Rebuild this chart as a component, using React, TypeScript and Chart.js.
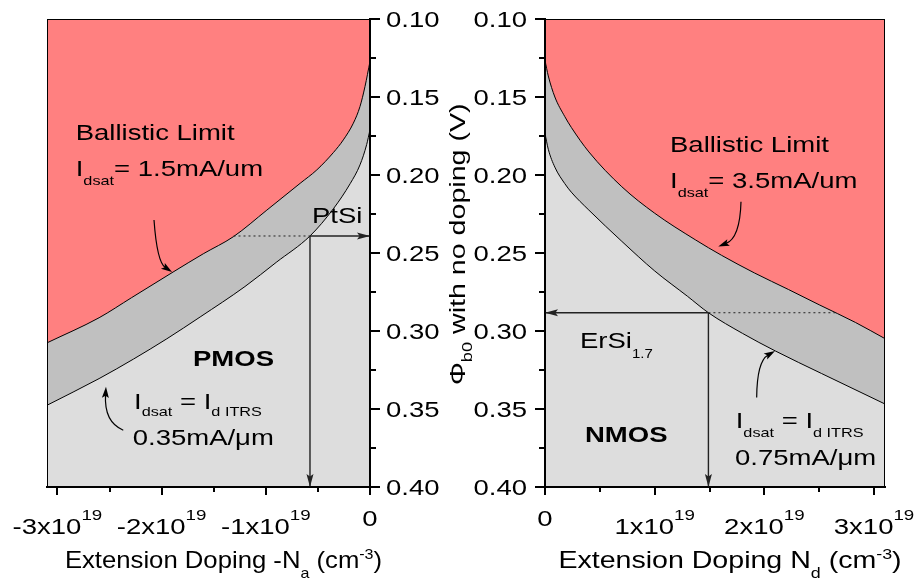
import React, { useEffect, useRef } from 'react';
import { Chart, registerables } from 'chart.js';

Chart.register(...registerables);

// ---------- data: doping in units of 1e19 cm^-3, barrier height Φb0 in V ----------
const Y_TICKS = [0.1, 0.15, 0.2, 0.25, 0.3, 0.35, 0.4];
const Y_MINOR_TICKS = [0.125, 0.175, 0.225, 0.275, 0.325, 0.375];

// PMOS panel (acceptor doping plotted as -Na)
const PMOS_X_TICKS = [-3, -2, -1, 0];
const PMOS_X_MINOR_TICKS = [-2.5, -1.5, -0.5];
const PMOS_BALLISTIC_NA = [-3.1, -2.6, -2.29, -1.89, -1.6, -1.31, -0.99, -0.67, -0.51, -0.35, -0.256, -0.16, -0.096, -0.048, 0];
const PMOS_BALLISTIC_PHI = [0.3076, 0.2915, 0.2787, 0.2622, 0.2505, 0.2395, 0.2225, 0.2053, 0.1967, 0.1855, 0.1775, 0.1668, 0.1561, 0.1433, 0.1272];
const PMOS_ITRS_NA = [-3.1, -2.6, -2.27, -1.95, -1.63, -1.2, -0.9, -0.576, -0.35, -0.19, -0.096, -0.032, 0];
const PMOS_ITRS_PHI = [0.3476, 0.3305, 0.318, 0.305, 0.291, 0.2715, 0.256, 0.2391, 0.2215, 0.2055, 0.1935, 0.1805, 0.171];
const PTSI_PHI = 0.2391;
const PTSI_NA = -0.576;
const PTSI_DOT_FROM = -1.31;

// NMOS panel (donor doping Nd)
const NMOS_X_TICKS = [0, 1, 2, 3];
const NMOS_X_MINOR_TICKS = [0.5, 1.5, 2.5];
const NMOS_BALLISTIC_ND = [0, 0.03, 0.09, 0.18, 0.24, 0.4, 0.7, 1.0, 1.37, 1.61, 1.91, 2.22, 2.5, 2.83, 3.1];
const NMOS_BALLISTIC_PHI = [0.1266, 0.1365, 0.15, 0.1625, 0.1695, 0.1852, 0.2075, 0.2245, 0.2415, 0.2515, 0.2628, 0.2734, 0.2832, 0.2945, 0.3049];
const NMOS_ITRS_ND = [0, 0.03, 0.09, 0.18, 0.24, 0.4, 0.7, 1.0, 1.3, 1.49, 1.8, 2.1, 2.52, 3.1];
const NMOS_ITRS_PHI = [0.1734, 0.1835, 0.195, 0.2055, 0.211, 0.2225, 0.2425, 0.2615, 0.2778, 0.2883, 0.3015, 0.3128, 0.3272, 0.3468];
const ERSI_PHI = 0.2883;
const ERSI_ND = 1.49;
const ERSI_DOT_TO = 2.65;

// ---------- styling ----------
const FONT = '"Liberation Sans", Arial, Helvetica, sans-serif';
const PINK = '#ff8080';
const BAND = '#c0c0c0';
const LIGHT = '#dddddd';
const GUIDE = '#222222';

type Run = { t: string; size?: number; dy?: number; bold?: boolean };
type TextItem = { x: number; y: number; runs: Run[]; size?: number; sx?: number; align?: 'left' | 'center' | 'right' };
type CurvedArrow = { from: [number, number]; ctrl: [number, number]; to: [number, number] };

interface Panel {
  xMin: number;
  xMax: number;
  xTicks: number[];
  xMinor: number[];
  side: 'left' | 'right';
  padding: { left: number; right: number; top: number; bottom: number };
  ballisticX: number[];
  ballisticY: number[];
  itrsX: number[];
  itrsY: number[];
  guide: { phi: number; n: number; dotEnd: number; axisX: number };
  arrows: CurvedArrow[];
  texts: TextItem[];
  title: Run[];
  titleSx: number;
  yTitle: boolean;
}

function drawRuns(
  ctx: CanvasRenderingContext2D,
  x: number,
  y: number,
  runs: Run[],
  opts: { align?: 'left' | 'center' | 'right'; sx?: number; size?: number; rotate?: number } = {}
) {
  const sx = opts.sx ?? 1.25;
  const base = opts.size ?? 22;
  ctx.save();
  ctx.translate(x, y);
  if (opts.rotate) ctx.rotate(opts.rotate);
  ctx.scale(sx, 1);
  ctx.textBaseline = 'alphabetic';
  ctx.textAlign = 'left';
  ctx.fillStyle = '#000';
  const fonts = runs.map((r) => `${r.bold ? 'bold ' : ''}${r.size ?? base}px ${FONT}`);
  const widths = runs.map((r, i) => {
    ctx.font = fonts[i];
    return ctx.measureText(r.t).width;
  });
  const total = widths.reduce((s, w) => s + w, 0);
  let cx = opts.align === 'center' ? -total / 2 : opts.align === 'right' ? -total : 0;
  runs.forEach((r, i) => {
    ctx.font = fonts[i];
    ctx.fillText(r.t, cx, r.dy ?? 0);
    cx += widths[i];
  });
  ctx.restore();
}

function arrowHead(ctx: CanvasRenderingContext2D, x: number, y: number, angle: number, len = 12, half = 3.5) {
  ctx.save();
  ctx.translate(x, y);
  ctx.rotate(angle);
  ctx.beginPath();
  ctx.moveTo(0, 0);
  ctx.lineTo(-len, -half);
  ctx.lineTo(-len * 0.8, 0);
  ctx.lineTo(-len, half);
  ctx.closePath();
  ctx.fill();
  ctx.restore();
}

const pts = (xs: number[], ys: number[]) => xs.map((x, i) => ({ x, y: ys[i] }));

function decorPlugin(p: Panel) {
  return {
    id: 'panelDecor',
    beforeDatasetsDraw(chart: any) {
      const { ctx, chartArea: a } = chart;
      ctx.save();
      ctx.fillStyle = LIGHT;
      ctx.fillRect(a.left, a.top, a.right - a.left, a.bottom - a.top);
      ctx.restore();
    },
    afterDatasetsDraw(chart: any) {
      const { ctx, chartArea: a } = chart;
      ctx.save();
      ctx.strokeStyle = '#000';
      ctx.lineWidth = 1;
      ctx.strokeRect(a.left + 0.5, a.top + 0.5, a.right - a.left - 1, a.bottom - a.top - 1);
      ctx.restore();
    },
    afterDraw(chart: any) {
      const { ctx, chartArea: a } = chart;
      const xs = chart.scales.x;
      const ys = chart.scales.y;
      const X = (v: number) => xs.getPixelForValue(v);
      const Y = (v: number) => ys.getPixelForValue(v);

      // minor tick marks
      ctx.save();
      ctx.strokeStyle = '#000';
      ctx.lineWidth = 2;
      ctx.beginPath();
      p.xMinor.forEach((v) => {
        const px = Math.round(X(v));
        ctx.moveTo(px, a.bottom);
        ctx.lineTo(px, a.bottom + 5);
      });
      Y_MINOR_TICKS.forEach((v) => {
        const py = Math.round(Y(v));
        if (p.side === 'right') {
          ctx.moveTo(a.right, py);
          ctx.lineTo(a.right + 6, py);
        } else {
          ctx.moveTo(a.left - 6, py);
          ctx.lineTo(a.left, py);
        }
      });
      ctx.stroke();
      ctx.restore();

      // tick labels
      p.xTicks.forEach((v) => {
        const px = X(v);
        if (v === 0) drawRuns(ctx, px, a.bottom + 38.5, [{ t: '0' }], { align: 'center' });
        else
          drawRuns(ctx, px, a.bottom + 47, [{ t: `${v}x10` }, { t: '19', size: 15, dy: -14 }], { align: 'center' });
      });
      Y_TICKS.forEach((v) => {
        const py = Y(v) + 8;
        if (p.side === 'right') drawRuns(ctx, a.right + 16, py, [{ t: v.toFixed(2) }], { align: 'left' });
        else drawRuns(ctx, a.left - 18, py, [{ t: v.toFixed(2) }], { align: 'right' });
      });

      // axis title
      drawRuns(ctx, (a.left + a.right) / 2 + 15, 568, p.title, { align: 'center', size: 24, sx: p.titleSx });

      // guide arrowheads
      ctx.save();
      ctx.fillStyle = GUIDE;
      const gy = Y(p.guide.phi);
      const toAxis = X(p.guide.axisX);
      arrowHead(ctx, toAxis, gy, toAxis > X(p.guide.n) ? 0 : Math.PI, 13, 3.5);
      arrowHead(ctx, X(p.guide.n), a.bottom, Math.PI / 2, 13, 3.5);
      ctx.restore();

      // curved pointer arrows
      ctx.save();
      ctx.strokeStyle = '#000';
      ctx.fillStyle = '#000';
      ctx.lineWidth = 1.2;
      p.arrows.forEach((ar) => {
        const f = [X(ar.from[0]), Y(ar.from[1])];
        const c = [X(ar.ctrl[0]), Y(ar.ctrl[1])];
        const t = [X(ar.to[0]), Y(ar.to[1])];
        const ang = Math.atan2(t[1] - c[1], t[0] - c[0]);
        ctx.beginPath();
        ctx.moveTo(f[0], f[1]);
        ctx.quadraticCurveTo(c[0], c[1], t[0] - Math.cos(ang) * 8, t[1] - Math.sin(ang) * 8);
        ctx.stroke();
        arrowHead(ctx, t[0], t[1], ang, 11, 3.5);
      });
      ctx.restore();

      // annotations
      p.texts.forEach((tx) => drawRuns(ctx, tx.x, tx.y, tx.runs, { align: tx.align, size: tx.size, sx: tx.sx }));

      if (p.yTitle) {
        drawRuns(
          ctx,
          465,
          385,
          [{ t: 'Φ' }, { t: 'b0', size: 14, dy: 7 }, { t: ' with no doping (V)' }],
          { rotate: -Math.PI / 2, sx: 1.3 }
        );
      }
    },
  };
}

function makeChart(canvas: HTMLCanvasElement, p: Panel) {
  const guideStyle = { borderColor: GUIDE, borderWidth: 1.4, pointRadius: 0, fill: false, tension: 0 };
  const config: any = {
    type: 'line',
    data: {
      datasets: [
        {
          label: 'guide dotted',
          data: [
            { x: p.guide.dotEnd, y: p.guide.phi },
            { x: p.guide.n, y: p.guide.phi },
          ].sort((u, v) => u.x - v.x),
          ...guideStyle,
          borderWidth: 1,
          borderDash: [2, 3],
          order: 0,
        },
        {
          label: 'guide horizontal',
          data: [
            { x: p.guide.n, y: p.guide.phi },
            { x: p.guide.axisX, y: p.guide.phi },
          ].sort((u, v) => u.x - v.x),
          ...guideStyle,
          order: 0,
        },
        {
          label: 'guide vertical',
          data: [
            { x: p.guide.n, y: p.guide.phi },
            { x: p.guide.n, y: 0.4 },
          ],
          ...guideStyle,
          order: 0,
        },
        {
          label: 'Ballistic limit',
          data: pts(p.ballisticX, p.ballisticY),
          borderColor: '#000',
          borderWidth: 1,
          backgroundColor: PINK,
          fill: 'end',
          pointRadius: 0,
          cubicInterpolationMode: 'monotone',
          order: 1,
        },
        {
          label: 'Idsat = Id ITRS',
          data: pts(p.itrsX, p.itrsY),
          borderColor: '#000',
          borderWidth: 1,
          backgroundColor: BAND,
          fill: 'end',
          pointRadius: 0,
          cubicInterpolationMode: 'monotone',
          order: 2,
        },
      ],
    },
    options: {
      animation: false,
      responsive: false,
      devicePixelRatio: 1,
      events: [],
      layout: { padding: p.padding },
      plugins: { legend: { display: false }, tooltip: { enabled: false }, title: { display: false } },
      scales: {
        x: {
          type: 'linear',
          position: 'bottom',
          min: p.xMin,
          max: p.xMax,
          z: 1,
          afterBuildTicks: (s: any) => {
            s.ticks = p.xTicks.map((v) => ({ value: v }));
          },
          afterFit: (s: any) => {
            s.height = 12;
          },
          ticks: { display: false, autoSkip: false },
          grid: { display: true, drawOnChartArea: false, drawTicks: true, tickLength: 8, color: '#000', lineWidth: 2 },
          border: { display: true, color: '#000', width: 2 },
        },
        y: {
          type: 'linear',
          position: p.side,
          min: 0.1,
          max: 0.4,
          reverse: true,
          z: 1,
          afterBuildTicks: (s: any) => {
            s.ticks = Y_TICKS.map((v) => ({ value: v }));
          },
          afterFit: (s: any) => {
            s.width = 12;
          },
          ticks: { display: false, autoSkip: false },
          grid: { display: true, drawOnChartArea: false, drawTicks: true, tickLength: 10, color: '#000', lineWidth: 2 },
          border: { display: true, color: '#000', width: 2 },
        },
      },
    },
    plugins: [decorPlugin(p)],
  };
  return new Chart(canvas, config);
}

const PMOS_PANEL: Panel = {
  xMin: -3.1,
  xMax: 0,
  xTicks: PMOS_X_TICKS,
  xMinor: PMOS_X_MINOR_TICKS,
  side: 'right',
  padding: { left: 47, right: 532, top: 19, bottom: 86 },
  ballisticX: PMOS_BALLISTIC_NA,
  ballisticY: PMOS_BALLISTIC_PHI,
  itrsX: PMOS_ITRS_NA,
  itrsY: PMOS_ITRS_PHI,
  guide: { phi: PTSI_PHI, n: PTSI_NA, dotEnd: PTSI_DOT_FROM, axisX: 0 },
  arrows: [
    { from: [-2.073, 0.2288], ctrl: [-2.044, 0.2558], to: [-1.9, 0.2622] },
    { from: [-2.368, 0.3636], ctrl: [-2.553, 0.3585], to: [-2.534, 0.3358] },
  ],
  texts: [
    { x: 75.7, y: 140, runs: [{ t: 'Ballistic Limit' }] },
    { x: 75.7, y: 176, runs: [{ t: 'I' }, { t: 'dsat', size: 13, dy: 9 }, { t: '= 1.5mA/um' }] },
    { x: 312, y: 223, runs: [{ t: 'PtSi' }] },
    { x: 193, y: 366, runs: [{ t: 'PMOS', bold: true }] },
    {
      x: 134,
      y: 409,
      runs: [{ t: 'I' }, { t: 'dsat', size: 13, dy: 7 }, { t: ' = I' }, { t: 'd ITRS', size: 13, dy: 7 }],
    },
    { x: 132.7, y: 445, runs: [{ t: '0.35mA/μm' }] },
  ],
  title: [
    { t: 'Extension Doping -N' },
    { t: 'a', size: 15, dy: 10 },
    { t: ' (cm' },
    { t: '-3', size: 15, dy: -9 },
    { t: ')' },
  ],
  titleSx: 1.07,
  yTitle: true,
};

const NMOS_PANEL: Panel = {
  xMin: 0,
  xMax: 3.1,
  xTicks: NMOS_X_TICKS,
  xMinor: NMOS_X_MINOR_TICKS,
  side: 'left',
  padding: { left: 533, right: 29, top: 19, bottom: 86 },
  ballisticX: NMOS_BALLISTIC_ND,
  ballisticY: NMOS_BALLISTIC_PHI,
  itrsX: NMOS_ITRS_ND,
  itrsY: NMOS_ITRS_PHI,
  guide: { phi: ERSI_PHI, n: ERSI_ND, dotEnd: ERSI_DOT_TO, axisX: 0 },
  arrows: [
    { from: [1.787, 0.2171], ctrl: [1.778, 0.2405], to: [1.58, 0.2458] },
    { from: [1.93, 0.3426], ctrl: [1.933, 0.3194], to: [2.097, 0.3128] },
  ],
  texts: [
    { x: 670, y: 151.7, runs: [{ t: 'Ballistic Limit' }] },
    { x: 670, y: 188.3, runs: [{ t: 'I' }, { t: 'dsat', size: 13, dy: 8.5 }, { t: '= 3.5mA/um' }] },
    { x: 580, y: 348.3, runs: [{ t: 'ErSi' }, { t: '1.7', size: 12, dy: 10 }] },
    { x: 585, y: 442.3, runs: [{ t: 'NMOS', bold: true }] },
    {
      x: 735.7,
      y: 428.3,
      runs: [{ t: 'I' }, { t: 'dsat', size: 13, dy: 8.4 }, { t: ' = I' }, { t: 'd ITRS', size: 13, dy: 8.4 }],
    },
    { x: 735, y: 465, runs: [{ t: '0.75mA/μm' }] },
  ],
  title: [
    { t: 'Extension Doping N' },
    { t: 'd', size: 15, dy: 10 },
    { t: ' (cm' },
    { t: '-3', size: 15, dy: -9 },
    { t: ')' },
  ],
  titleSx: 1.19,
  yTitle: false,
};

export default function App() {
  const leftRef = useRef<HTMLCanvasElement>(null);
  const rightRef = useRef<HTMLCanvasElement>(null);

  useEffect(() => {
    const left = makeChart(leftRef.current!, PMOS_PANEL);
    const right = makeChart(rightRef.current!, NMOS_PANEL);
    return () => {
      left.destroy();
      right.destroy();
    };
  }, []);

  const canvasStyle: React.CSSProperties = {
    position: 'absolute',
    left: 0,
    top: 0,
    width: 914,
    height: 585,
    display: 'block',
  };

  return (
    <div style={{ position: 'fixed', left: 0, top: 0, width: 914, height: 585, background: '#ffffff' }}>
      <canvas ref={leftRef} width={914} height={585} style={canvasStyle} />
      <canvas ref={rightRef} width={914} height={585} style={canvasStyle} />
    </div>
  );
}
